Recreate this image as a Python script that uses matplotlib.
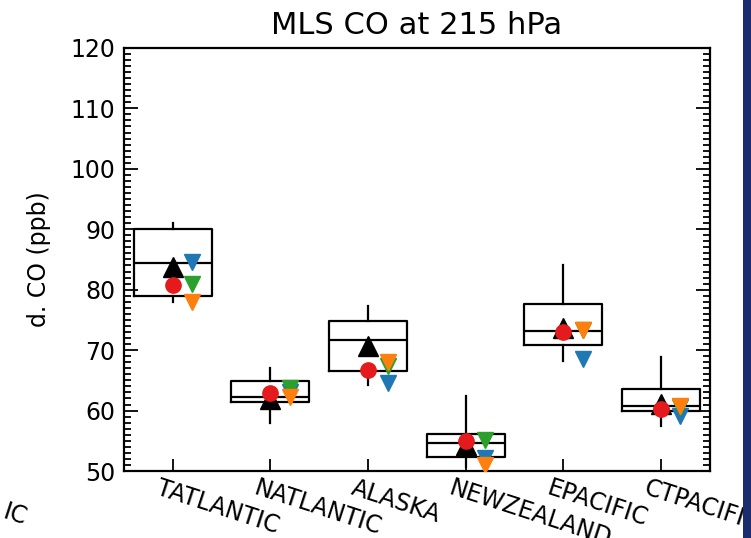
import matplotlib
matplotlib.use("Agg")
import matplotlib.pyplot as plt
import matplotlib.transforms as mtrans
from matplotlib.patches import Rectangle
from matplotlib.ticker import MultipleLocator

# Regional CO statistics at 215 hPa
regions = ['TATLANTIC', 'NATLANTIC', 'ALASKA', 'NEWZEALAND', 'EPACIFIC', 'CTPACIFIC']
whisker_lo = [77.9, 57.9, 64.3, 50.7, 68.2, 57.5]
box_lo = [78.9, 61.4, 66.6, 52.3, 70.9, 60.0]
median = [84.4, 62.2, 71.7, 54.6, 73.2, 60.8]
box_hi = [90.0, 64.9, 74.9, 56.2, 77.6, 63.5]
whisker_hi = [91.0, 67.1, 77.3, 62.4, 84.1, 68.8]

obs_mean = [83.8, 61.9, 70.7, 54.3, 73.6, 61.1]      # black triangles
obs_median = [80.8, 62.9, 66.7, 55.0, 73.0, 60.2]    # red circles
model_blue = [84.6, 63.0, 64.6, 52.1, 68.5, 59.1]
model_green = [80.9, 63.7, 67.3, 55.1, 73.4, 60.6]
model_orange = [77.9, 62.3, 68.1, 51.0, 73.4, 60.8]

plt.rcParams['font.family'] = 'DejaVu Sans'

fig = plt.figure(figsize=(7.51, 5.38), dpi=100)
fig.patch.set_facecolor('white')
ax = fig.add_axes([0.165, 0.1245, 0.78, 0.7865])

pos = list(range(1, len(regions) + 1))
stats = []
for i in range(len(regions)):
    stats.append({
        'whislo': whisker_lo[i], 'q1': box_lo[i], 'med': median[i],
        'q3': box_hi[i], 'whishi': whisker_hi[i], 'fliers': [],
    })

ax.bxp(stats, positions=pos, widths=0.8, showcaps=False, showfliers=False,
       boxprops=dict(color='black', linewidth=1.6),
       whiskerprops=dict(color='black', linewidth=1.6),
       medianprops=dict(color='black', linewidth=1.6))

off = [p + 0.2 for p in pos]
ax.plot(off, model_blue, 'v', color='#1f77b4', ms=11, ls='none', zorder=4)
ax.plot(off, model_green, 'v', color='#2ca02c', ms=11, ls='none', zorder=4)
ax.plot(off, model_orange, 'v', color='#ff7f0e', ms=11, ls='none', zorder=4)
ax.plot(pos, obs_mean, '^', color='black', ms=15, ls='none', zorder=5)
ax.plot(pos, obs_median, 'o', color='#e41a1c', ms=11, ls='none', zorder=6)

ax.set_xlim(0.5, 6.5)
ax.set_ylim(50, 120)
ax.yaxis.set_major_locator(MultipleLocator(10))
ax.yaxis.set_minor_locator(MultipleLocator(1))
ax.tick_params(axis='y', which='both', direction='in', left=True, right=True,
               labelsize=17, width=1.3, pad=6)
ax.tick_params(axis='y', which='major', length=10)
ax.tick_params(axis='y', which='minor', length=5)
ax.tick_params(axis='x', which='major', direction='in', length=9, width=1.3,
               top=False, labelsize=17)

ax.set_xticks(pos)
ax.set_xticklabels(regions, rotation=-18, ha='left', va='top',
                   rotation_mode='anchor')
# labels start a little to the left of their tick
shift = mtrans.ScaledTranslation(-12 / 100, 0, fig.dpi_scale_trans)
for lbl in ax.get_xticklabels():
    lbl.set_transform(lbl.get_transform() + shift)

for s in ax.spines.values():
    s.set_linewidth(1.6)

ax.set_ylabel('d. CO (ppb)', fontsize=17, labelpad=14)
ax.set_title('MLS CO at 215 hPa', fontsize=22, pad=10)

# cut-off label from the neighbouring panel
fig.text(0.0, 0.043, 'IC', fontsize=17, rotation=-18, ha='left', va='center')

# dark slide background on the right edge
fig.patches.append(Rectangle((0.989, 0), 0.011, 1, transform=fig.transFigure,
                             facecolor='#1b2d6e', edgecolor='none', zorder=10))

fig.savefig('out.png', dpi=100)
